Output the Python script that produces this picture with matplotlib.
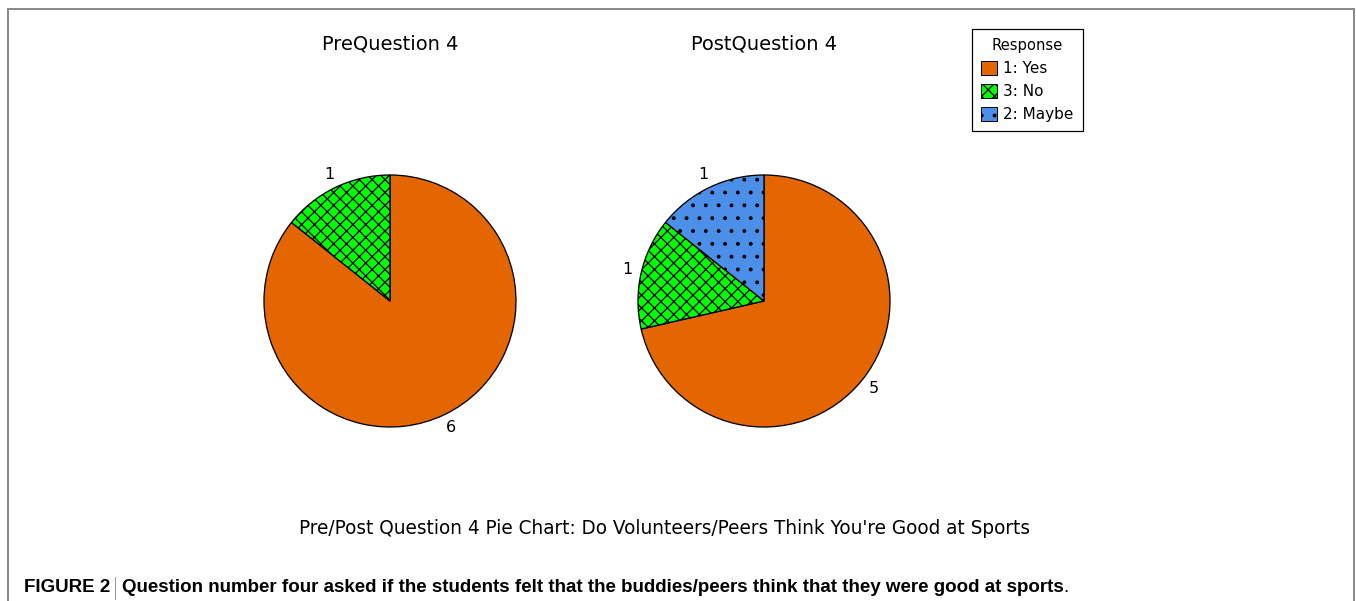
import matplotlib
matplotlib.use("Agg")
import matplotlib.pyplot as plt
from matplotlib.patches import Patch, Rectangle
from matplotlib.lines import Line2D

# data
pre_labels = ["1: Yes", "3: No"]
pre_counts = [6, 1]
post_labels = ["1: Yes", "3: No", "2: Maybe"]
post_counts = [5, 1, 1]
legend_labels = ["1: Yes", "3: No", "2: Maybe"]

colors = {"1: Yes": "#E46600", "3: No": "#00FF00", "2: Maybe": "#4C8FE8"}
hatches = {"1: Yes": "", "3: No": "xx", "2: Maybe": "."}

W, H, DPI = 1357, 601, 77
def pt(px):
    return px * 72 / DPI

plt.rcParams["font.family"] = "DejaVu Sans"
plt.rcParams["hatch.linewidth"] = pt(1.3)

fig = plt.figure(figsize=(W / DPI, H / DPI), dpi=DPI)

# grey frame
fig.patches.append(Rectangle((8 / W, -0.1), (1354 - 8) / W, 1 - 9 / H + 0.1,
                             transform=fig.transFigure, fill=False,
                             edgecolor="#8a8a8a", linewidth=pt(2)))

def ax_at(cx, cy, r):
    ax = fig.add_axes([(cx - r) / W, 1 - (cy + r) / H, 2 * r / W, 2 * r / H])
    ax.axis("off")
    return ax

def draw_pie(ax, labels, counts, title, cx):
    total = sum(counts)
    ax.pie(counts,
           colors=[colors[l] for l in labels],
           hatch=[hatches[l] for l in labels],
           startangle=90, counterclock=False, radius=1,
           autopct=lambda p: f"{p * total / 100:.0f}", pctdistance=1.11,
           wedgeprops=dict(edgecolor="black", linewidth=pt(1.3)),
           textprops=dict(fontsize=pt(16)))
    ax.set_xlim(-1, 1)
    ax.set_ylim(-1, 1)
    fig.text(cx / W, 1 - 44 / H, title, ha="center", va="center", fontsize=pt(19.4))

ax1 = ax_at(390, 301, 126)
draw_pie(ax1, pre_labels, pre_counts, "PreQuestion 4", 390)
ax2 = ax_at(764, 301, 126)
draw_pie(ax2, post_labels, post_counts, "PostQuestion 4", 764)

handles = [Patch(facecolor=colors[l], hatch=hatches[l], edgecolor="black",
                 linewidth=pt(1)) for l in legend_labels]
leg = fig.legend(handles, legend_labels, title="Response", loc="upper left",
                 bbox_to_anchor=(972 / W, 1 - 29 / H), fancybox=False,
                 edgecolor="black", framealpha=1, fontsize=pt(15.3),
                 title_fontsize=pt(14.8), handlelength=1.05, handleheight=1.05,
                 handletextpad=0.4, labelspacing=0.5, borderpad=0.6,
                 borderaxespad=0)
leg.get_frame().set_linewidth(pt(1.2))

fig.text(665 / W, 1 - 528 / H,
         "Pre/Post Question 4 Pie Chart: Do Volunteers/Peers Think You're Good at Sports",
         ha="center", va="center", fontsize=pt(18.5))

# caption
cap_y = 1 - 588 / H
cap_font = dict(family="Liberation Sans", fontsize=pt(18.7), va="center")
t1 = fig.text(24 / W, cap_y, "FIGURE 2", weight="bold", **cap_font)
fig.add_artist(Line2D([115 / W, 115 / W], [1 - 577 / H, 1 - 599 / H],
                      transform=fig.transFigure, color="#9a9a9a", linewidth=pt(1)))
t2 = fig.text(122 / W, cap_y,
              "Question number four asked if the students felt that the buddies/peers think that they were good at sports",
              weight="bold", **cap_font)
r = fig.canvas.get_renderer()
bb = t2.get_window_extent(r)
fig.text(bb.x1 / W, cap_y, ".", **cap_font)

fig.savefig("out.png", dpi=DPI)
